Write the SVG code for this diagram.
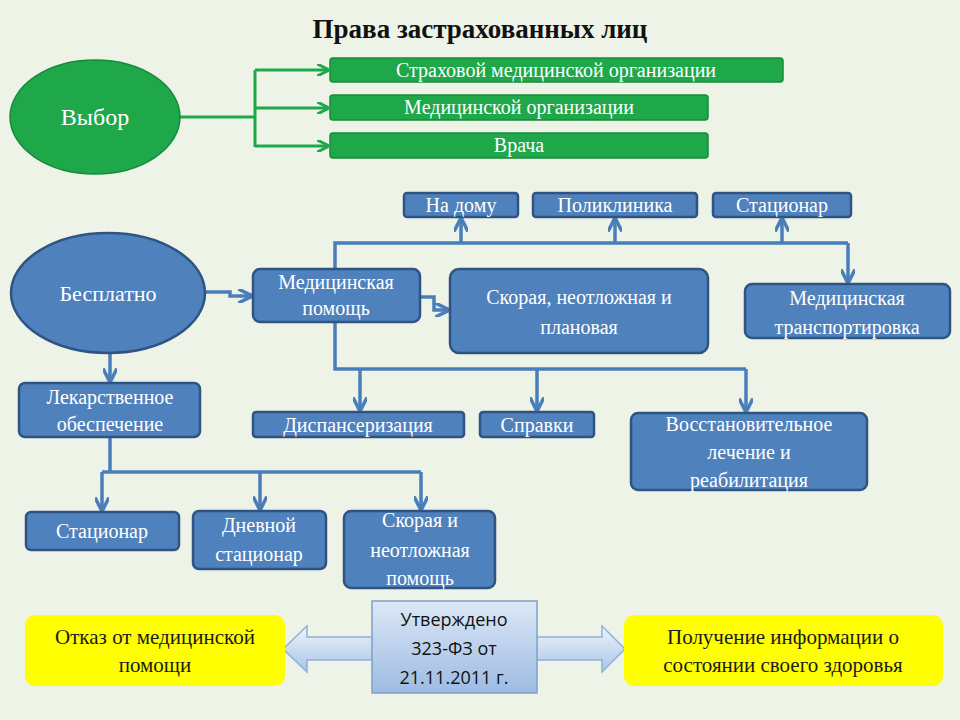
<svg xmlns="http://www.w3.org/2000/svg" width="960" height="720" viewBox="0 0 960 720" font-family="Liberation Serif, serif">
<style>
.g{fill:#1ea84a;stroke:#178a3a;stroke-width:1.5}
.b{fill:#4f81bd;stroke:#2f5483;stroke-width:2.5}
.t{font-family:Liberation Serif, serif;fill:#fff;font-size:20px;text-anchor:middle}
.y{fill:#ffff00}
.d{font-family:Liberation Serif, serif;fill:#1a1a1a;font-size:21px;text-anchor:middle}
.s{font-family:Open Sans, Liberation Sans, sans-serif;font-size:18px;text-anchor:middle;fill:#111}
.gl{stroke:#1ea84a;stroke-width:3;fill:none}
.bl{stroke:#4a7ebb;stroke-width:3.5;fill:none}
</style>
<defs>
<marker id="ga" viewBox="0 0 10 10" refX="9" refY="5" markerWidth="4" markerHeight="4" orient="auto"><path d="M0,0L10,5L0,10" fill="none" stroke="#1ea84a" stroke-width="2.5"/></marker>
<marker id="ba" viewBox="0 0 10 10" refX="9" refY="5" markerWidth="4" markerHeight="4" orient="auto"><path d="M0,0L10,5L0,10" fill="none" stroke="#4a7ebb" stroke-width="2.5"/></marker>
<linearGradient id="ag" x1="0" y1="0" x2="0" y2="1"><stop offset="0" stop-color="#eef4fb"/><stop offset="1" stop-color="#a9c4e6"/></linearGradient>
<linearGradient id="cg" x1="0" y1="0" x2="0" y2="1"><stop offset="0" stop-color="#dce8f6"/><stop offset="1" stop-color="#9dbbe3"/></linearGradient>
</defs>
<rect width="960" height="720" fill="#eef3e8"/>
<text x="480" y="38" font-size="27" font-weight="bold" text-anchor="middle" fill="#111">Права застрахованных лиц</text>
<g id="connectors">
<path class="gl" d="M180,117H255M255,70V147"/>
<path class="gl" marker-end="url(#ga)" d="M255,70H328"/>
<path class="gl" marker-end="url(#ga)" d="M255,108H328"/>
<path class="gl" marker-end="url(#ga)" d="M255,146H328"/>
<path class="bl" d="M335,269V243H848"/>
<path class="bl" marker-end="url(#ba)" d="M461,243V219"/>
<path class="bl" marker-end="url(#ba)" d="M615,243V219"/>
<path class="bl" marker-end="url(#ba)" d="M782,243V219"/>
<path class="bl" marker-end="url(#ba)" d="M848,243V282"/>
<path class="bl" marker-end="url(#ba)" d="M205,292H230V296H251"/>
<path class="bl" marker-end="url(#ba)" d="M420,297H434V310H448"/>
<path class="bl" d="M335,322V369H746"/>
<path class="bl" marker-end="url(#ba)" d="M360,369V410"/>
<path class="bl" marker-end="url(#ba)" d="M537,369V410"/>
<path class="bl" marker-end="url(#ba)" d="M746,369V411"/>
<path class="bl" marker-end="url(#ba)" d="M110,353V381"/>
<path class="bl" d="M110,437V472M102,472H421"/>
<path class="bl" marker-end="url(#ba)" d="M102,472V510"/>
<path class="bl" marker-end="url(#ba)" d="M260,472V509"/>
<path class="bl" marker-end="url(#ba)" d="M421,472V509"/>
<polygon points="283,649 307,626 307,637 602,637 602,626 625,649 602,672 602,660 307,660 307,672" fill="url(#ag)" stroke="#8fb0d8" stroke-width="1.5"/>
</g>
<g id="vybor"><ellipse class="g" cx="95" cy="117" rx="85" ry="57"/><text class="t" x="95" y="125" style="font-size:24px">Выбор</text></g>
<g id="smo"><rect class="g" x="330" y="58" width="453" height="24" rx="3"/><text class="t" x="556" y="77">Страховой медицинской организации</text></g>
<g id="mo"><rect class="g" x="330" y="95" width="378" height="25" rx="3"/><text class="t" x="519" y="114">Медицинской организации</text></g>
<g id="vrach"><rect class="g" x="330" y="133" width="378" height="25" rx="3"/><text class="t" x="519" y="152">Врача</text></g>
<g id="nadomu"><rect class="b" x="404" y="193" width="114" height="24" rx="3"/><text class="t" x="461" y="212">На дому</text></g>
<g id="poli"><rect class="b" x="533" y="193" width="164" height="24" rx="3"/><text class="t" x="615" y="212">Поликлиника</text></g>
<g id="stac1"><rect class="b" x="713" y="193" width="138" height="24" rx="3"/><text class="t" x="782" y="212">Стационар</text></g>
<g id="besp"><ellipse class="b" cx="108" cy="293" rx="97" ry="60"/><text class="t" x="108" y="301" style="font-size:22px">Бесплатно</text></g>
<g id="medpom"><rect class="b" x="253" y="269" width="167" height="53" rx="7"/><text class="t" x="336" y="289">Медицинская</text><text class="t" x="336" y="315">помощь</text></g>
<g id="skoraya"><rect class="b" x="450" y="269" width="258" height="84" rx="9"/><text class="t" x="579" y="304">Скорая, неотложная и</text><text class="t" x="579" y="334">плановая</text></g>
<g id="transp"><rect class="b" x="745" y="284" width="205" height="54" rx="7"/><text class="t" x="847" y="305">Медицинская</text><text class="t" x="847" y="334">транспортировка</text></g>
<g id="lek"><rect class="b" x="19" y="383" width="181" height="54" rx="6"/><text class="t" x="110" y="404">Лекарственное</text><text class="t" x="110" y="431">обеспечение</text></g>
<g id="disp"><rect class="b" x="253" y="412" width="211" height="25" rx="3"/><text class="t" x="358" y="432">Диспансеризация</text></g>
<g id="sprav"><rect class="b" x="480" y="412" width="114" height="25" rx="3"/><text class="t" x="537" y="432">Справки</text></g>
<g id="vosst"><rect class="b" x="631" y="413" width="236" height="77" rx="7"/><text class="t" x="749" y="431">Восстановительное</text><text class="t" x="749" y="459">лечение и</text><text class="t" x="749" y="487">реабилитация</text></g>
<g id="stac2"><rect class="b" x="26" y="512" width="153" height="38" rx="5"/><text class="t" x="102" y="538">Стационар</text></g>
<g id="dnev"><rect class="b" x="193" y="511" width="133" height="58" rx="6"/><text class="t" x="259" y="532">Дневной</text><text class="t" x="259" y="561">стационар</text></g>
<g id="skor2"><rect class="b" x="344" y="511" width="151" height="77" rx="7"/><text class="t" x="420" y="527">Скорая и</text><text class="t" x="420" y="557">неотложная</text><text class="t" x="420" y="585">помощь</text></g>
<g id="otkaz"><rect class="y" x="25" y="615" width="260" height="71" rx="10"/><text class="d" x="155" y="644">Отказ от медицинской</text><text class="d" x="155" y="672">помощи</text></g>
<g id="poluch"><rect class="y" x="624" y="615" width="319" height="71" rx="10"/><text class="d" x="783" y="644">Получение информации о</text><text class="d" x="783" y="672">состоянии своего здоровья</text></g>
<g id="utv"><rect x="372" y="601" width="165" height="92" fill="url(#cg)" stroke="#7fa0c8" stroke-width="1.5"/><text class="s" x="454" y="626">Утверждено</text><text class="s" x="454" y="655">323-ФЗ от</text><text class="s" x="454" y="684">21.11.2011 г.</text></g>
</svg>
